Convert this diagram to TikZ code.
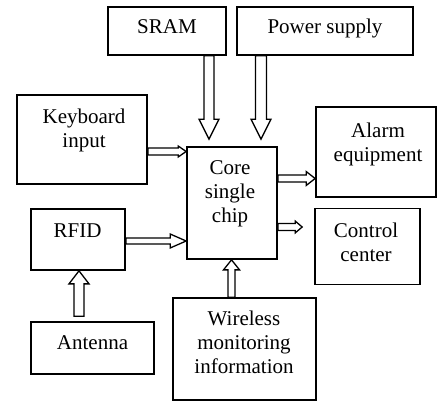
\documentclass[tikz,border=0pt]{standalone}
\usepackage{fontspec}
\setmainfont{Liberation Serif}
\usetikzlibrary{calc}
\tikzset{
  box/.style={draw, line width=1.7pt, rectangle, inner sep=0pt},
  lbl/.style={anchor=base, inner sep=0pt, font=\fontsize{21}{24}\selectfont},
  blk/.style={draw, line width=1.3pt, fill=white, line join=miter},
}
\newcommand\arrowR[6]{\draw[blk] let \p1=(#1), \p2=(#2), \p3=(0,#3) in
 (\x1,\y3+#4pt) -- (\x2-#6pt,\y3+#4pt) -- (\x2-#6pt,\y3+#5pt) -- (\x2,\y3)
 -- (\x2-#6pt,\y3-#5pt) -- (\x2-#6pt,\y3-#4pt) -- (\x1,\y3-#4pt) -- cycle;}
\newcommand\arrowD[6]{\draw[blk] let \p1=(#1), \p2=(#2), \p3=(#3,0) in
 (\x3-#4pt,\y1) -- (\x3-#4pt,\y2+#6pt) -- (\x3-#5pt,\y2+#6pt) -- (\x3,\y2)
 -- (\x3+#5pt,\y2+#6pt) -- (\x3+#4pt,\y2+#6pt) -- (\x3+#4pt,\y1) -- cycle;}
\newcommand\arrowU[6]{\draw[blk] let \p1=(#1), \p2=(#2), \p3=(#3,0) in
 (\x3-#4pt,\y1) -- (\x3-#4pt,\y2-#6pt) -- (\x3-#5pt,\y2-#6pt) -- (\x3,\y2)
 -- (\x3+#5pt,\y2-#6pt) -- (\x3+#4pt,\y2-#6pt) -- (\x3+#4pt,\y1) -- cycle;}
\begin{document}
\begin{tikzpicture}[x=1pt,y=-1pt]
\useasboundingbox[fill=white] (0,0) rectangle (438,401);
\setlength{\tabcolsep}{0pt}
% boxes
\node[box, minimum width=118pt, minimum height=48pt] (sram) at (167,31) {};
\node[box, minimum width=176pt, minimum height=48pt] (power) at (325,31) {};
\node[box, minimum width=130pt, minimum height=89pt] (kb) at (82,139.5) {};
\node[box, minimum width=90pt, minimum height=112pt] (core) at (232,203) {};
\node[box, minimum width=120pt, minimum height=90pt] (alarm) at (376,152) {};
\node[box, minimum width=94pt, minimum height=61pt] (rfid) at (78,239.5) {};
\node[box, minimum width=105pt, minimum height=76pt] (control) at (367.5,246.5) {};
\node[box, minimum width=123pt, minimum height=52pt] (antenna) at (92.5,348) {};
\node[box, minimum width=143pt, minimum height=102pt] (wireless) at (244.5,349) {};
% labels
\node[lbl] (tsram) at (167,34) {SRAM};
\node[lbl] (tpower) at (325,34) {Power supply};
\node[lbl] (tkb) at (84,123) {\begin{tabular}[t]{c}Keyboard\\input\end{tabular}};
\node[lbl] (tcore) at (230,174) {\begin{tabular}[t]{c}Core\\single\\chip\end{tabular}};
\node[lbl] (talarm) at (378,137) {\begin{tabular}[t]{c}Alarm\\equipment\end{tabular}};
\node[lbl] (trfid) at (77.5,237) {RFID};
\node[lbl] (tcontrol) at (366,237) {\begin{tabular}[t]{c}Control\\center\end{tabular}};
\node[lbl] (tantenna) at (92.5,349) {Antenna};
\node[lbl] (twireless) at (244,325) {\begin{tabular}[t]{c}Wireless\\monitoring\\information\end{tabular}};
% arrows
\arrowD{sram.south}{[yshift=7pt]core.north}{209}{5}{10}{20}
\arrowD{power.south}{[yshift=7pt]core.north}{261}{5.5}{10}{20}
\arrowR{kb.east}{core.west}{151.5}{3.5}{5.5}{8}
\arrowR{core.east}{alarm.west}{178.5}{3.5}{7}{9}
\arrowR{rfid.east}{core.west}{241}{3}{7}{16}
\arrowR{core.east}{[xshift=-12pt]control.west}{227}{3.5}{6}{7}
\arrowU{[yshift=5pt]antenna.north}{rfid.south}{79}{5}{10}{13}
\arrowU{wireless.north}{core.south}{231.5}{3.5}{8}{10}
\end{tikzpicture}
\end{document}
